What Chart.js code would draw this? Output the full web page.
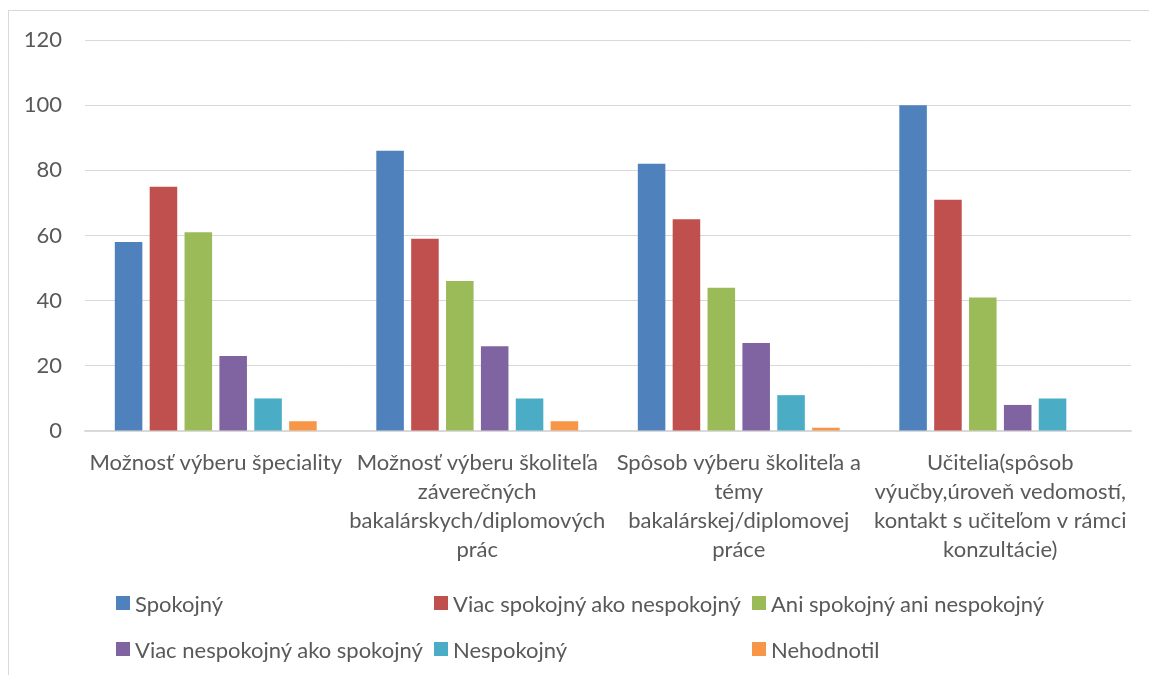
<!DOCTYPE html>
<html>
<head>
<meta charset="utf-8">
<script src="https://cdn.jsdelivr.net/npm/chart.js@4/dist/chart.umd.min.js"></script>
<style>
    body { margin: 0; background: #ffffff; font-family: Lato, "Open Sans", sans-serif; }
    #cadre { position: absolute; left: 0; top: 0; width: 1149px; height: 675px; overflow: hidden; }
    #bordure { position: absolute; left: 8px; top: 10px; width: 1160px; height: 700px; border-left: 1px solid #d9d9d9; border-top: 1px solid #d9d9d9; }
    #barCanvas { position: absolute; left: 0; top: 0; }
    #legende { position: absolute; left: 116px; top: 590px; width: 960px; display: grid; grid-template-columns: 318px 318px 318px; row-gap: 20px; }
    .item { display: flex; align-items: center; font-size: 22px; color: #595959; height: 26px; white-space: nowrap; }
    .carre { width: 14px; height: 14px; margin-right: 5px; flex: none; }
</style>
</head>
<body>
<div id="cadre">
    <div id="bordure"></div>
    <canvas id="barCanvas" width="1149" height="675"></canvas>
    <div id="legende"></div>
</div>
<script>
// categories (labels coupés en lignes comme dans l'original)
let Categories = [
    ["Možnosť výberu špeciality"],
    ["Možnosť výberu školiteľa", "záverečných", "bakalárskych/diplomových", "prác"],
    ["Spôsob výberu školiteľa a", "témy", "bakalárskej/diplomovej", "práce"],
    ["Učitelia(spôsob", "výučby,úroveň vedomostí,", "kontakt s učiteľom v rámci", "konzultácie)"]
]
let Series = ["Spokojný", "Viac spokojný ako nespokojný", "Ani spokojný ani nespokojný", "Viac nespokojný ako spokojný", "Nespokojný", "Nehodnotil"]
let Spokojny = [58, 86, 82, 100]
let ViacSpokojny = [75, 59, 65, 71]
let AniAni = [61, 46, 44, 41]
let ViacNespokojny = [23, 26, 27, 8]
let Nespokojny = [10, 10, 11, 10]
let Nehodnotil = [3, 3, 1, 0]
let Couleurs = ["#4F81BD", "#C0504D", "#9BBB59", "#8064A2", "#4BACC6", "#F79646"]
let TicksY = [0, 20, 40, 60, 80, 100, 120]

function Initialisation() {
    let valeurs = [Spokojny, ViacSpokojny, AniAni, ViacNespokojny, Nespokojny, Nehodnotil]
    let datasets = Series.map((nom, i) => ({
        label: nom,
        data: valeurs[i],
        backgroundColor: Couleurs[i],
        categoryPercentage: 0.8,
        barPercentage: 0.79
    }))

    const barCanvas = document.getElementById("barCanvas")
    const barChart = new Chart(barCanvas, {
        type: "bar",
        data: { labels: Categories, datasets: datasets },
        options: {
            responsive: false,
            animation: false,
            layout: { padding: { top: 40, right: 18, left: 0, bottom: 0 } },
            plugins: {
                legend: { display: false }, // legende faite en html en dessous
                tooltip: { enabled: false }
            },
            scales: {
                y: {
                    min: 0,
                    max: 120,
                    afterBuildTicks: (axis) => { axis.ticks = TicksY.map(v => ({ value: v })) },
                    afterFit: (axis) => { axis.width = 85 },
                    border: { display: false },
                    grid: { color: "#d9d9d9", lineWidth: 1, drawTicks: false },
                    ticks: { color: "#595959", padding: 23, font: { family: "Lato", size: 22 } }
                },
                x: {
                    afterFit: (axis) => { axis.height = 244 },
                    border: { display: true, color: "#d9d9d9", width: 1.5 },
                    grid: { display: false },
                    ticks: {
                        color: "#595959",
                        padding: 9,
                        autoSkip: false,
                        maxRotation: 0,
                        font: { family: "Lato", size: 22, lineHeight: 1.32 }
                    }
                }
            }
        }
    })

    // legende en grille de 3 colonnes
    let legende = document.getElementById("legende")
    barChart.data.datasets.forEach(ds => {
        let item = document.createElement("div")
        item.className = "item"
        let carre = document.createElement("span")
        carre.className = "carre"
        carre.style.background = ds.backgroundColor
        item.appendChild(carre)
        item.appendChild(document.createTextNode(ds.label))
        legende.appendChild(item)
    })
}

window.addEventListener("DOMContentLoaded", () => {
    Initialisation()
})
</script>
</body>
</html>
